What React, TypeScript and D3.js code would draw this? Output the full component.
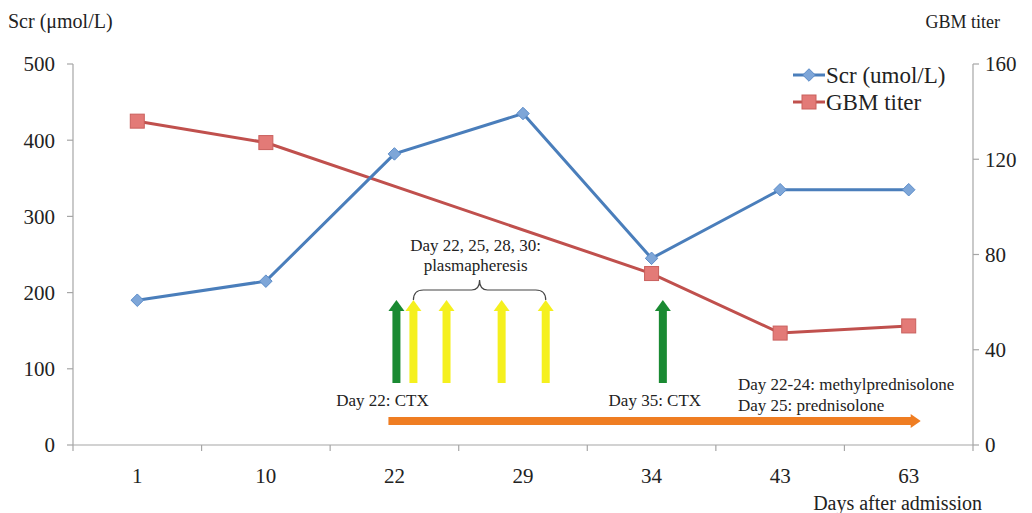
import React, { useRef, useEffect } from 'react';
import * as d3 from 'd3';

const days: string[] = ['1', '10', '22', '29', '34', '43', '63'];
const scrValues: number[] = [190, 215, 382, 435, 245, 335, 335];
const gbmValues: (number | null)[] = [136, 127, null, null, 72, 47, 50];
const scrTicks: number[] = [0, 100, 200, 300, 400, 500];
const gbmTicks: number[] = [0, 40, 80, 120, 160];

// treatment annotations, placed on a day scale between the category centres
const ctxDays: number[] = [22, 35];
const plasmaDays: number[] = [22, 25, 28, 30];
const steroidRange: number[] = [22, 63];

const App: React.FC = () => {
  const svgRef = useRef<SVGSVGElement>(null);

  useEffect(() => {
    if (!svgRef.current) return;
    const svg = d3.select(svgRef.current);
    svg.selectAll('*').remove();

    const left = 73, right = 973, top = 64, bottom = 445;
    const font = '"Liberation Serif", "Times New Roman", serif';
    const axisColor = '#a6a6a6';
    const blue = '#4a7ebb';
    const red = '#c0504d';

    const x = d3.scaleBand().domain(days).range([left, right]);
    const cx = (d: string) => (x(d) || 0) + x.bandwidth() / 2;
    const yL = d3.scaleLinear().domain([0, 500]).range([bottom, top]);
    const yR = d3.scaleLinear().domain([0, 160]).range([bottom, top]);
    const dayX = d3.scaleLinear().domain(days.map(Number)).range(days.map(cx));

    // axes
    const ax = svg.append('g').attr('stroke', axisColor).attr('stroke-width', 1.2);
    ax.append('line').attr('x1', left).attr('x2', right).attr('y1', bottom).attr('y2', bottom);
    ax.append('line').attr('x1', left).attr('x2', left).attr('y1', top).attr('y2', bottom);
    ax.append('line').attr('x1', right).attr('x2', right).attr('y1', top).attr('y2', bottom);
    scrTicks.forEach(t => {
      ax.append('line').attr('x1', left - 6).attr('x2', left).attr('y1', yL(t)).attr('y2', yL(t));
    });
    gbmTicks.forEach(t => {
      ax.append('line').attr('x1', right).attr('x2', right + 6).attr('y1', yR(t)).attr('y2', yR(t));
    });
    days.concat(['end']).forEach((d, i) => {
      const xx = left + i * x.bandwidth();
      ax.append('line').attr('x1', xx).attr('x2', xx).attr('y1', bottom).attr('y2', bottom + 6);
    });

    const txt = svg.append('g').attr('font-family', font).attr('fill', '#222');
    scrTicks.forEach(t => {
      txt.append('text').attr('x', left - 18).attr('y', yL(t)).attr('dy', '0.35em')
        .attr('text-anchor', 'end').attr('font-size', 21).text(t);
    });
    gbmTicks.forEach(t => {
      txt.append('text').attr('x', right + 12).attr('y', yR(t)).attr('dy', '0.35em')
        .attr('font-size', 21).text(t);
    });
    days.forEach(d => {
      txt.append('text').attr('x', cx(d)).attr('y', 483).attr('text-anchor', 'middle')
        .attr('font-size', 21).text(d);
    });
    txt.append('text').attr('x', 8).attr('y', 28).attr('font-size', 20).text('Scr (μmol/L)');
    txt.append('text').attr('x', 1000).attr('y', 28).attr('text-anchor', 'end').attr('font-size', 18).text('GBM titer');
    txt.append('text').attr('x', 982).attr('y', 510).attr('text-anchor', 'end').attr('font-size', 20).text('Days after admission');

    // series lines
    const scrPts = days.map((d, i) => [cx(d), yL(scrValues[i])] as [number, number]);
    const gbmPts = days.map((d, i) => ({ d, v: gbmValues[i] }))
      .filter(p => p.v !== null)
      .map(p => [cx(p.d), yR(p.v as number)] as [number, number]);
    const line = d3.line();

    svg.append('path').attr('d', line(gbmPts)).attr('fill', 'none').attr('stroke', red).attr('stroke-width', 3);
    svg.append('path').attr('d', line(scrPts)).attr('fill', 'none').attr('stroke', blue).attr('stroke-width', 3);

    const diamond = d3.symbol().type(d3.symbolDiamond2).size(100);
    svg.append('g').selectAll('path').data(scrPts).enter().append('path')
      .attr('d', diamond).attr('transform', p => `translate(${p[0]},${p[1]})`)
      .attr('fill', '#7ea6d8').attr('stroke', '#5b8cc9').attr('stroke-width', 1);
    svg.append('g').selectAll('rect').data(gbmPts).enter().append('rect')
      .attr('x', p => p[0] - 7).attr('y', p => p[1] - 7).attr('width', 14).attr('height', 14)
      .attr('fill', '#e37a77').attr('stroke', '#c9605d').attr('stroke-width', 1);

    // vertical arrows
    const arrowTop = 300, arrowBottom = 383;
    const upArrow = (xx: number, color: string) => {
      svg.append('rect').attr('x', xx - 4).attr('y', arrowTop + 9).attr('width', 8)
        .attr('height', arrowBottom - arrowTop - 9).attr('fill', color);
      svg.append('path')
        .attr('d', `M${xx - 8},${arrowTop + 11} L${xx},${arrowTop} L${xx + 8},${arrowTop + 11} Z`)
        .attr('fill', color);
    };
    ctxDays.forEach(d => upArrow(dayX(d) + (d === 35 ? -3 : 2), '#1a8a32'));
    const plasmaX = plasmaDays.map((d, i) => dayX(d) + (i === 0 ? 19 : -3));
    plasmaX.forEach(xx => upArrow(xx, '#f5f01e'));

    // brace over plasmapheresis arrows
    const bx0 = plasmaX[0], bx1 = plasmaX[plasmaX.length - 1], bm = (bx0 + bx1) / 2;
    const by = arrowTop - 10;
    svg.append('path')
      .attr('d', `M${bx0},${arrowTop} Q${bx0},${by} ${bx0 + 10},${by} L${bm - 8},${by} Q${bm},${by} ${bm},${by - 10} Q${bm},${by} ${bm + 8},${by} L${bx1 - 10},${by} Q${bx1},${by} ${bx1},${arrowTop}`)
      .attr('fill', 'none').attr('stroke', '#444').attr('stroke-width', 1.2);
    txt.append('text').attr('x', bm - 4).attr('y', 251).attr('text-anchor', 'middle').attr('font-size', 17)
      .text('Day 22, 25, 28, 30:');
    txt.append('text').attr('x', bm - 4).attr('y', 271).attr('text-anchor', 'middle').attr('font-size', 17)
      .text('plasmapheresis');

    txt.append('text').attr('x', dayX(22) - 12).attr('y', 406).attr('text-anchor', 'middle').attr('font-size', 17).text('Day 22: CTX');
    txt.append('text').attr('x', dayX(35) - 11).attr('y', 406).attr('text-anchor', 'middle').attr('font-size', 17).text('Day 35: CTX');
    txt.append('text').attr('x', 738).attr('y', 390).attr('font-size', 17).text('Day 22-24: methylprednisolone');
    txt.append('text').attr('x', 738).attr('y', 411).attr('font-size', 17).text('Day 25: prednisolone');

    // steroid arrow
    const sx0 = dayX(steroidRange[0]) - 6, sx1 = dayX(steroidRange[1]) + 12, sy = 421;
    svg.append('rect').attr('x', sx0).attr('y', sy - 4).attr('width', sx1 - sx0 - 8).attr('height', 8).attr('fill', '#ef7d22');
    svg.append('path').attr('d', `M${sx1 - 10},${sy - 7} L${sx1},${sy} L${sx1 - 10},${sy + 7} Z`).attr('fill', '#ef7d22');

    // legend
    const lg = svg.append('g');
    const items = [
      { label: 'Scr (umol/L)', color: blue, marker: 'd' },
      { label: 'GBM titer', color: red, marker: 's' },
    ];
    items.forEach((it, i) => {
      const ly = 75 + i * 27;
      lg.append('line').attr('x1', 793).attr('x2', 825).attr('y1', ly).attr('y2', ly)
        .attr('stroke', it.color).attr('stroke-width', 3);
      if (it.marker === 'd') {
        lg.append('path').attr('d', diamond).attr('transform', `translate(809,${ly})`)
          .attr('fill', '#7ea6d8').attr('stroke', '#5b8cc9');
      } else {
        lg.append('rect').attr('x', 802).attr('y', ly - 7).attr('width', 14).attr('height', 14)
          .attr('fill', '#e37a77').attr('stroke', '#c9605d');
      }
      lg.append('text').attr('x', 826).attr('y', ly).attr('dy', '0.35em').attr('font-family', font)
        .attr('font-size', 23).attr('fill', '#222').text(it.label);
    });
  }, []);

  return (
    <svg ref={svgRef} width={1032} height={513} style={{ position: 'absolute', left: 0, top: 0, background: '#fff' }} />
  );
};

export default App;
